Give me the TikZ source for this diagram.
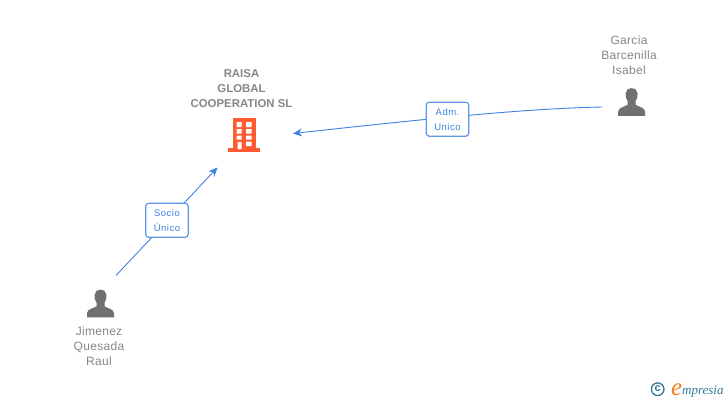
\documentclass[tikz,border=0pt]{standalone}
\usepackage{fontspec}
\setmainfont{Liberation Sans}
\newfontfamily\logofont{Liberation Serif}
\newfontfamily\spacedfont[LetterSpace=5]{Liberation Sans}
\newfontfamily\labelfont[LetterSpace=2.5]{Liberation Sans}
\usetikzlibrary{arrows.meta}
\definecolor{txtgray}{RGB}{135,135,135}
\definecolor{icongray}{RGB}{112,112,112}
\definecolor{linkblue}{RGB}{62,130,225}
\definecolor{boxblue}{RGB}{95,150,230}
\definecolor{bldorange}{RGB}{255,90,50}
\definecolor{logoteal}{RGB}{50,120,150}
\definecolor{logoorange}{RGB}{240,130,30}
\tikzset{
  x=1pt,y=-1pt,
  personlabel/.style={font=\labelfont\fontsize{12}{15}\selectfont,text=txtgray,align=center,inner sep=0pt},
  companylabel/.style={font=\bfseries\fontsize{11.4}{15}\selectfont,text=txtgray,align=center,inner sep=0pt},
  rolebox/.style={draw=boxblue,line width=1.2pt,rounded corners=3pt,fill=white,text=linkblue,align=center,
    font=\spacedfont\fontsize{9.5}{15}\selectfont,inner sep=0pt,minimum width=42.5pt,minimum height=34pt},
  link/.style={draw=linkblue,line width=0.9pt,-{Stealth[length=9pt,width=8pt]}},
  anchorpt/.style={inner sep=0pt,minimum size=0pt}
}
\newcommand{\persongly}[2]{%
  \fill[icongray,shift={(#1,#2)}]
    (-4,13) -- (-4,16.5) .. controls (-6,18.5) and (-13.5,19) .. (-13.5,23.5)
    -- (-13.5,27.7) -- (13.5,27.7) -- (13.5,23.5)
    .. controls (13.5,19) and (6,18.5) .. (4,16.5) -- (4,13)
    .. controls (7,9) and (7.5,0) .. (0,0)
    .. controls (-7.5,0) and (-7,9) .. (-4,13) -- cycle;%
}
\begin{document}
\begin{tikzpicture}
\useasboundingbox (0,0) rectangle (728,400);
\fill[white] (0,0) rectangle (728,400);
% company
\node[companylabel] (company) at (241.5,89) {RAISA\\GLOBAL\\COOPERATION SL};
\fill[bldorange] (232.7,118) rectangle (255.7,149);
\fill[bldorange] (228.3,148.3) rectangle (260,151.8);
\fill[white]
  (236.7,122) rectangle (241.7,127)
  (246,122) rectangle (251.7,127)
  (236.7,129) rectangle (241.7,133.5)
  (246,129) rectangle (251.7,133.5)
  (236.7,135.5) rectangle (241.7,139.5)
  (246,135.5) rectangle (251.7,139.5)
  (237.5,142) rectangle (241.7,149)
  (246,141.5) rectangle (251.7,146);
% people
\node[personlabel] (garcia) at (629,55) {Garcia\\Barcenilla\\Isabel};
\persongly{631.6}{88.2}
\node[personlabel] (jimenez) at (99,346) {Jimenez\\Quesada\\Raul};
\persongly{100.5}{289.7}
% connector ends
\coordinate (garciaEnd) at (602,107);
\coordinate (companyEast) at (293,133.5);
\coordinate (jimenezEnd) at (116,275.5);
\coordinate (companySouth) at (217.5,167.5);
\draw[link] (garciaEnd) .. controls (525,108.5) and (425,119) .. (companyEast);
\draw[link] (jimenezEnd) -- (companySouth);
\node[rolebox] (adm) at (447.5,119.2) {Adm.\\Unico};
\node[rolebox] (socio) at (167,220.3) {Socio\\Único};
% logo
\draw[logoteal,line width=1.3pt] (657.7,389.2) circle (6.3);
\node[anchorpt,text=logoteal,font=\bfseries\fontsize{11}{11}\selectfont] (copy) at (657.7,388.6) {c};
\node[anchorpt,anchor=base west,text=logoorange,font=\logofont\itshape\fontsize{25}{25}\selectfont] (logoe) at (671,395) {e};
\node[anchorpt,anchor=base west,text=logoteal,font=\logofont\itshape\fontsize{13}{13}\selectfont] (logotext) at (682,394) {mpresia};
\end{tikzpicture}
\end{document}
